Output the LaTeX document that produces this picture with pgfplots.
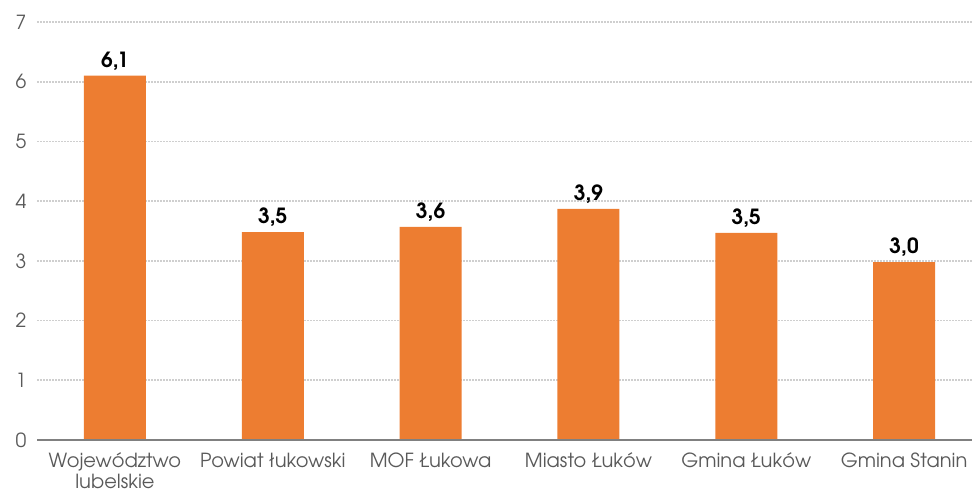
\documentclass[border=0pt]{standalone}
\usepackage{pgfplots}
\pgfplotsset{compat=1.18}
\usepackage{fontspec}
\setmainfont{TeX Gyre Adventor}
\usetikzlibrary{calc}
\definecolor{barorange}{HTML}{ED7D31}
\definecolor{gridgray}{HTML}{CFCFCF}
\definecolor{axisgray}{HTML}{808080}
\definecolor{textgray}{HTML}{595959}
\begin{document}
\begin{tikzpicture}
\begin{axis}[
  name=ax,
  scale only axis,
  width=935bp, height=418bp,
  xmin=-0.494, xmax=5.43,
  ymin=0, ymax=7,
  ytick={0,1,...,7},
  xtick={0,1,2,3,4,5},
  xticklabels={{Województwo\\lubelskie},{Powiat łukowski},{MOF Łukowa},{Miasto Łuków},{Gmina Łuków},{Gmina Stanin}},
  xticklabel style={align=center, font=\fontsize{19.5}{21}\selectfont, text=textgray, yshift=-5bp},
  yticklabel style={font=\fontsize{19.5}{21}\selectfont, text=textgray, xshift=-7bp},
  /pgf/number format/assume math mode=true,
  axis x line*=bottom,
  axis y line*=left,
  axis line style={draw=none},
  tick style={draw=none},
  ymajorgrids,
  grid style={gridgray, dash pattern=on 2bp off 1bp, line width=1.6bp},
  ybar,
  bar width=62bp,
  nodes near coords,
  every node near coord/.append style={font=\bfseries\fontsize{21}{23}\selectfont, text=black, yshift=2bp,
    /pgf/number format/.cd, fixed, fixed zerofill, precision=1, use comma, assume math mode=true},
  clip=false,
]
\addplot[fill=barorange, draw=none] coordinates {(0,6.1) (1,3.48) (2,3.57) (3,3.87) (4,3.47) (5,2.98)};
\draw[axisgray, line width=2.6bp] (axis cs:-0.494,0) -- (axis cs:5.43,0);
\end{axis}
\pgfresetboundingbox
\path[use as bounding box] ($(ax.south west)+(-37bp,-58bp)$) rectangle ($(ax.north east)+(0,22bp)$);
\end{tikzpicture}
\end{document}
